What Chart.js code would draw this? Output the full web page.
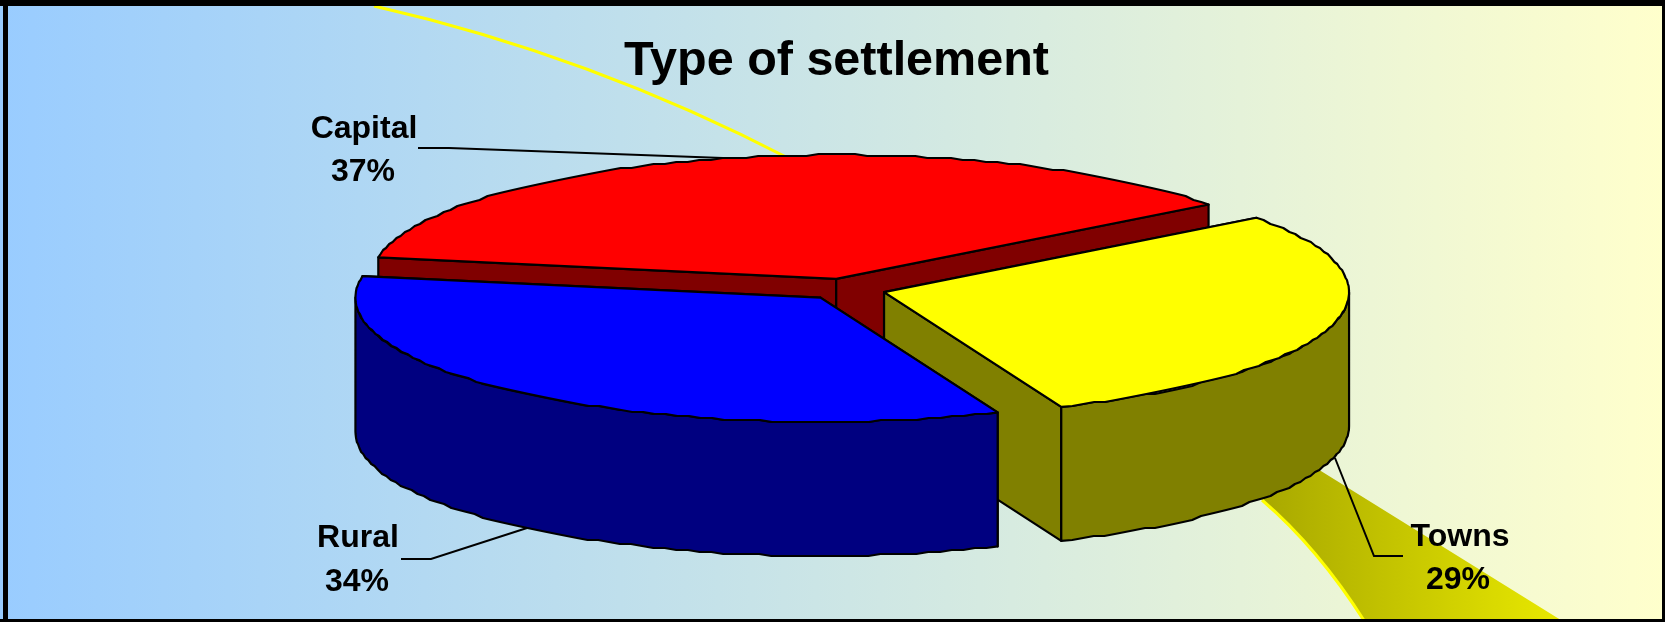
<!DOCTYPE html>
<html>
<head>
<meta charset="utf-8">
<style>html,body{margin:0;padding:0;background:#fff}canvas{display:block}</style>
<script src="https://cdn.jsdelivr.net/npm/chart.js@4"></script>
</head>
<body>
<canvas id="c" width="1665" height="622"></canvas>
<script>
const categories = ['Capital', 'Towns', 'Rural'];
const shares = [37, 29, 34];
const sliceColors = ['#FF0000', '#FFFF00', '#0000FF'];
const sideColors = ['#800000', '#808000', '#000080'];
const chartTitle = 'Type of settlement';

// label placement: [name x, name baseline, value x, value baseline]
const labelSpots = [[364, 138, 363, 181], [1460, 546, 1458, 589], [358, 547, 357, 591]];
const leaders = [
  [[418, 148], [449, 148], [723, 158]],
  [[1335, 458], [1374, 556], [1403, 556]],
  [[401, 559], [431, 559], [527, 528]]
];

const view = { cx: 845.5, cy: 289.3, tilt: 0.267, depth: 134, stair: 2 };

const backdrop = {
  id: 'backdrop',
  beforeDraw(chart) {
    const { ctx, width, height } = chart;
    ctx.save();
    const g = ctx.createLinearGradient(0, 0, width, 0);
    g.addColorStop(0, '#99CCFF');
    g.addColorStop(1, '#FFFFCC');
    ctx.fillStyle = g;
    ctx.fillRect(0, 0, width, height);

    // stray yellow sweep behind the pie
    ctx.strokeStyle = '#FFFF00';
    ctx.lineWidth = 3;
    ctx.beginPath();
    ctx.moveTo(374, 6);
    ctx.quadraticCurveTo(590, 55, 792, 160);
    ctx.stroke();

    const b = ctx.createLinearGradient(1262, 0, 1560, 0);
    b.addColorStop(0, '#A8A800');
    b.addColorStop(1, '#E8E800');
    ctx.fillStyle = b;
    ctx.beginPath();
    ctx.moveTo(1250, 485);
    ctx.lineTo(1262, 500);
    ctx.quadraticCurveTo(1318, 548, 1365, 622);
    ctx.lineTo(1564, 622);
    ctx.lineTo(1300, 458);
    ctx.closePath();
    ctx.fill();
    ctx.strokeStyle = '#FFFF00';
    ctx.lineWidth = 3;
    ctx.beginPath();
    ctx.moveTo(1262, 500);
    ctx.quadraticCurveTo(1318, 548, 1365, 622);
    ctx.stroke();
    ctx.restore();
  }
};

function sliceGeometry(arc) {
  const mid = (arc.startAngle + arc.endAngle) / 2;
  const off = arc.options.offset || 0;
  const R = arc.outerRadius;
  const cx = view.cx + Math.cos(mid) * off;
  const cy = view.cy + Math.sin(mid) * off * view.tilt;
  return { cx, cy, R, ry: R * view.tilt };
}

// outline of the rim, stepped in y as in the coarse vector source
function rimPath(ctx, g, from, to, drop, first) {
  const n = Math.max(2, Math.ceil(Math.abs(to - from) / (Math.PI / 120)));
  for (let i = 0; i <= n; i++) {
    const t = from + (to - from) * i / n;
    const x = g.cx + Math.cos(t) * g.R;
    let y = g.cy + Math.sin(t) * g.ry;
    if (i > 0 && i < n) y = Math.round(y / view.stair) * view.stair;
    if (i === 0 && first) ctx.moveTo(x, y + drop);
    else ctx.lineTo(x, y + drop);
  }
}

const extruded = {
  id: 'extruded',
  beforeDatasetDraw(chart, args) {
    const { ctx } = chart;
    const arcs = args.meta.data;
    ctx.save();
    ctx.lineJoin = 'round';
    ctx.strokeStyle = '#000';
    ctx.lineWidth = 2.2;
    arcs.forEach((arc, i) => {
      const g = sliceGeometry(arc);
      const { cx, cy, R, ry } = g;
      const a0 = arc.startAngle, a1 = arc.endAngle;
      const d = view.depth;
      const rim = a => [cx + Math.cos(a) * R, cy + Math.sin(a) * ry];
      ctx.fillStyle = sideColors[i];
      [a0, a1].forEach(a => {
        const [x, y] = rim(a);
        ctx.beginPath();
        ctx.moveTo(cx, cy);
        ctx.lineTo(x, y);
        ctx.lineTo(x, y + d);
        ctx.lineTo(cx, cy + d);
        ctx.closePath();
        ctx.fill();
        ctx.stroke();
      });
      // only the near half of the outer wall faces the viewer
      const w0 = Math.max(a0, 0), w1 = Math.min(a1, Math.PI);
      if (w1 > w0) {
        ctx.beginPath();
        rimPath(ctx, g, w0, w1, 0, true);
        rimPath(ctx, g, w1, w0, d, false);
        ctx.closePath();
        ctx.fill();
        ctx.stroke();
      }
      ctx.fillStyle = arc.options.backgroundColor;
      ctx.beginPath();
      ctx.moveTo(cx, cy);
      rimPath(ctx, g, a0, a1, 0, false);
      ctx.closePath();
      ctx.fill();
      ctx.stroke();
    });
    ctx.restore();
    return false;
  }
};

const callouts = {
  id: 'callouts',
  afterDraw(chart) {
    const { ctx, width, height } = chart;
    ctx.save();
    ctx.strokeStyle = '#000';
    ctx.lineWidth = 2;
    leaders.forEach(pts => {
      ctx.beginPath();
      pts.forEach(([x, y], i) => i ? ctx.lineTo(x, y) : ctx.moveTo(x, y));
      ctx.stroke();
    });
    ctx.fillStyle = '#000';
    ctx.font = 'bold 32px "Liberation Sans", Arial, sans-serif';
    ctx.textAlign = 'center';
    ctx.textBaseline = 'alphabetic';
    categories.forEach((name, i) => {
      const [nx, ny, vx, vy] = labelSpots[i];
      ctx.fillText(name, nx, ny);
      ctx.fillText(shares[i] + '%', vx, vy);
    });
    // frame
    ctx.fillStyle = '#000';
    ctx.fillRect(0, 0, width, 6);
    ctx.fillRect(3, 0, 5, height);
    ctx.fillRect(0, height - 3, width, 3);
    ctx.fillRect(width - 3, 0, 3, height);
    ctx.restore();
  }
};

new Chart(document.getElementById('c'), {
  type: 'pie',
  data: {
    labels: categories,
    datasets: [{
      data: shares,
      backgroundColor: sliceColors,
      borderColor: '#000',
      borderWidth: 0,
      offset: 40,
      radius: 465
    }]
  },
  options: {
    responsive: false,
    animation: false,
    rotation: -80,
    layout: { padding: { left: 8 } },
    events: [],
    plugins: {
      legend: { display: false },
      tooltip: { enabled: false },
      title: {
        display: true,
        text: chartTitle,
        color: '#000',
        font: { family: '"Liberation Sans", Arial, sans-serif', size: 48.5, weight: 'bold' },
        padding: { top: 33, bottom: 10 }
      }
    }
  },
  plugins: [backdrop, extruded, callouts]
});
</script>
</body>
</html>
